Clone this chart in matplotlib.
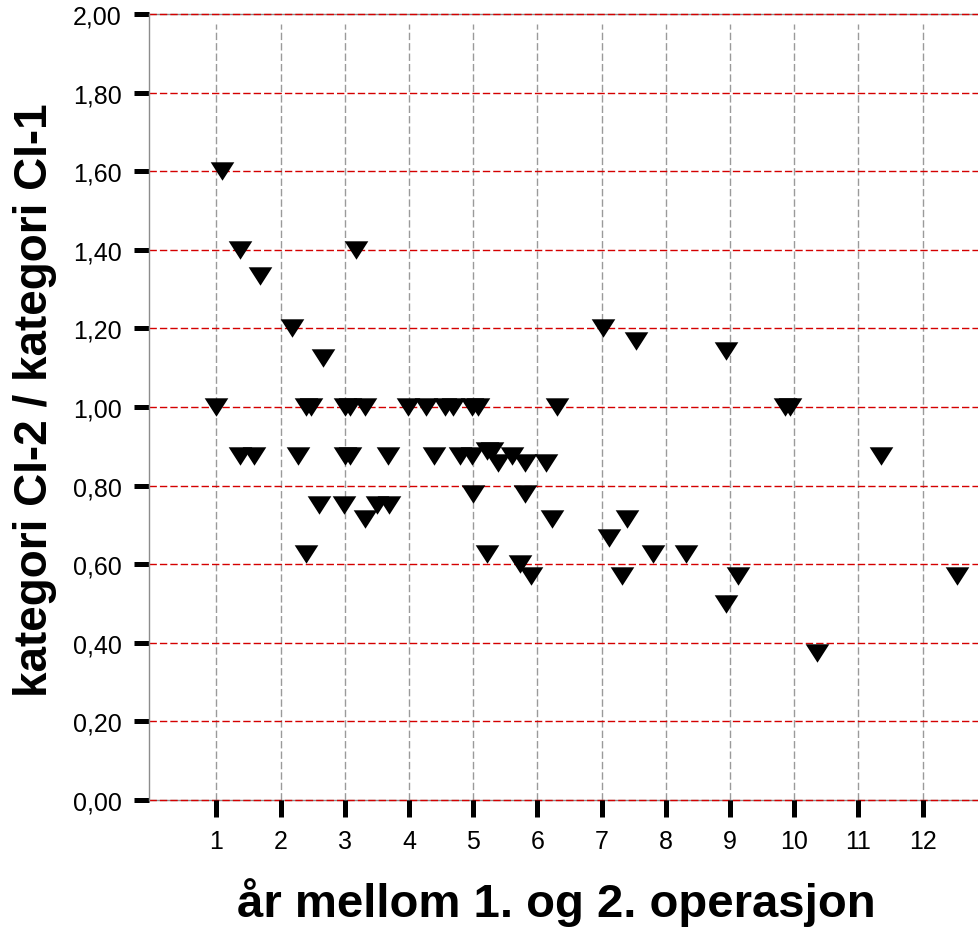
import numpy as np
import matplotlib
matplotlib.use("Agg")
import matplotlib.pyplot as plt

# ==========================================
# DATA
# ==========================================
aar = [1.08, 1.36, 1.68, 2.17, 2.66, 3.17,
       0.99, 2.40, 2.48, 3.00, 3.08, 3.31, 3.98, 4.27, 4.56, 4.69, 4.98, 5.08, 6.30, 9.85, 9.94,
       1.36, 1.58, 2.27, 3.00, 3.08, 3.67, 4.39, 4.79, 4.98, 5.60, 11.35,
       5.22, 5.29,
       5.39, 5.81, 6.13,
       4.99, 5.81,
       2.59, 2.99, 3.50, 3.68,
       3.31, 6.22, 7.39,
       7.12,
       2.40, 5.21, 7.80, 8.31,
       5.72,
       5.90, 7.31, 9.12, 12.53,
       8.94,
       10.35,
       7.02, 7.53, 8.94]

ratio = [1.60, 1.40, 1.333, 1.20, 1.125, 1.40,
         1.0, 1.0, 1.0, 1.0, 1.0, 1.0, 1.0, 1.0, 1.0, 1.0, 1.0, 1.0, 1.0, 1.0, 1.0,
         0.875, 0.875, 0.875, 0.875, 0.875, 0.875, 0.875, 0.875, 0.875, 0.875, 0.875,
         0.889, 0.889,
         0.857, 0.857, 0.857,
         0.778, 0.778,
         0.75, 0.75, 0.75, 0.75,
         0.714, 0.714, 0.714,
         0.667,
         0.625, 0.625, 0.625, 0.625,
         0.60,
         0.571, 0.571, 0.571, 0.571,
         0.50,
         0.375,
         1.20, 1.167, 1.143]

x_ticks = list(range(1, 13))
y_ticks = [0.0, 0.2, 0.4, 0.6, 0.8, 1.0, 1.2, 1.4, 1.6, 1.8, 2.0]
y_ticklabels = [f"{v:.2f}".replace(".", ",") for v in y_ticks]

# ==========================================
# PLOT
# ==========================================
plt.rcParams['font.family'] = ['Liberation Sans', 'DejaVu Sans']

fig = plt.figure(figsize=(9.79, 9.28), dpi=100)
ax = fig.add_axes([149/979, 1 - 801/928, 830/979, 786/928])

ax.set_xlim(-0.051, 12.877)
ax.set_ylim(0, 2)

# grid
for v in y_ticks:
    if v in (0.0, 2.0):
        ax.axhline(v, color='#8c8c8c', lw=1.0, zorder=1, clip_on=False)
    ax.axhline(v, color='#d40000', lw=1.0, dashes=(5.3, 2.2), zorder=1.5, clip_on=False)
ax.vlines(x_ticks, 0, 1.975, colors='#9a9a9a', lw=1.0, linestyles=(0, (5.3, 2.2)), zorder=1)

# triangles (down)
tri = [(-1.0, 0.78), (1.0, 0.78), (0.0, -0.78)]
ax.scatter(aar, ratio, marker=tri, s=17**2, c='black', linewidths=0, zorder=3, clip_on=False)

# spines
for s in ['top', 'right', 'bottom']:
    ax.spines[s].set_visible(False)
ax.spines['left'].set_color('#8c8c8c')
ax.spines['left'].set_linewidth(1.0)

ax.set_xticks(x_ticks)
ax.set_xticklabels([str(t) for t in x_ticks])
ax.set_yticks(y_ticks)
ax.set_yticklabels(y_ticklabels)
ax.tick_params(axis='y', direction='out', length=10.5, width=3.6, color='black',
               labelsize=18, pad=9)
ax.tick_params(axis='x', direction='out', length=12, width=3.6, color='black',
               labelsize=18, pad=9)

ax.set_xlabel('år mellom 1. og 2. operasjon', fontsize=34, fontweight='bold', va='center')
ax.xaxis.set_label_coords((556.5 - 149) / 830, -(903 - 801) / 786)
ax.set_ylabel('kategori CI-2 / kategori CI-1', fontsize=33, fontweight='bold', va='center')
ax.yaxis.set_label_coords((35 - 149) / 830, (801 - 400) / 786)

fig.savefig('out.png', dpi=100)
